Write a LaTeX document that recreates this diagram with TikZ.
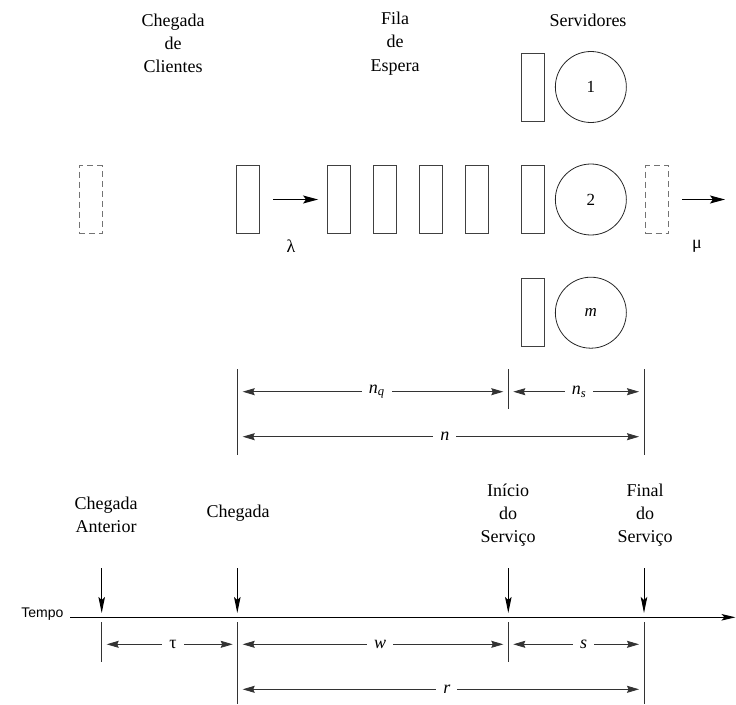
\documentclass[tikz,border=0pt]{standalone}
\usepackage{fontspec}
\setmainfont{Liberation Serif}
\newfontfamily\tempofont{Liberation Sans}
\usetikzlibrary{positioning,arrows.meta}

\begin{document}
\begin{tikzpicture}[
    x=1pt, y=-1pt,
    client/.style={draw=black!75, line width=0.9pt, minimum width=23pt, minimum height=68pt, inner sep=0pt},
    ghost/.style={client, dash pattern=on 6pt off 4pt, draw=black!55},
    server/.style={circle, draw=black!85, line width=0.8pt, minimum size=71pt, inner sep=0pt, font=\fontsize{17}{19}\selectfont},
    caption/.style={align=center, font=\fontsize{18}{23.3}\selectfont},
    flow/.style={-{Stealth[length=15pt,width=8pt,inset=3pt]}, line width=1.1pt},
    drop/.style={-{Stealth[length=16pt,width=6.5pt,inset=3pt]}, line width=1pt},
    axis/.style={-{Stealth[length=14pt,width=6.5pt,inset=3pt]}, line width=1.2pt},
    span/.style={{Stealth[length=12pt,width=7pt,inset=1.5pt]}-{Stealth[length=12pt,width=7pt,inset=1.5pt]}, draw=black!80, line width=0.8pt},
    spanlabel/.style={fill=white, inner xsep=7pt, inner ysep=1pt, font=\fontsize{18}{20}\selectfont\itshape},
    tick/.style={draw=black!80, line width=0.8pt}
]
\useasboundingbox (0,0) rectangle (736,704);

% Headings
\node[caption] (hin) at (173,43.5) {Chegada\\de\\Clientes};
\node[caption] (hq) at (395,43.5) {Fila\\de\\Espera};
\node[caption] (hsrv) at (588,20) {Servidores};

% Servers
\node[client] (r1) at (533,87) {};
\node[server, right=10pt of r1] (c1) {1};
\node[client] (r2) at (533,199.5) {};
\node[server, right=10pt of r2] (c2) {2};
\node[client] (r3) at (533,312.7) {};
\node[server, right=10pt of r3] (c3) {\textit{m}};

% Queue
\node[ghost] (prev) at (90.5,199.5) {};
\node[client] (arr) at (248.3,199.5) {};
\node[client] (q1) at (339,199.5) {};
\node[client, right=22pt of q1] (q2) {};
\node[client, right=22pt of q2] (q3) {};
\node[client, right=22pt of q3] (q4) {};
\node[ghost, right=18.5pt of c2] (done) {};
\coordinate (exit) at (725,199.5);

\draw[flow, shorten <=13pt, shorten >=9pt] (arr.east) -- (q1.west);
\draw[flow, shorten <=13pt] (done.east) -- (exit);
\node[caption] (lam) at (291,246) {λ};
\node[caption] (mu) at (697,246) {μ};

% Counts
\coordinate (nA) at (237.3,369); \coordinate (nA') at (237.3,455);
\coordinate (nB) at (508.3,369); \coordinate (nB') at (508.3,409);
\coordinate (nC) at (644,369);   \coordinate (nC') at (644,455);
\draw[tick] (nA) -- (nA');
\draw[tick] (nB) -- (nB');
\draw[tick] (nC) -- (nC');

\coordinate (nq0) at (242.7,391.7); \coordinate (nq1) at (503.3,391.7);
\coordinate (ns0) at (513.3,391.7); \coordinate (ns1) at (639,391.7);
\coordinate (n0) at (242.7,436.7);  \coordinate (n1) at (639,436.7);
\draw[span] (nq0) -- node[spanlabel, pos=0.514] (lnq) {n\textsubscript{q}} (nq1);
\draw[span] (ns0) -- node[spanlabel, pos=0.523] (lns) {n\textsubscript{s}} (ns1);
\draw[span] (n0) -- node[spanlabel, pos=0.51] (ln) {n} (n1);

% Time line
\node[anchor=east, font=\tempofont\fontsize{14}{16}\selectfont] (tempo) at (67,614) {Tempo};
\coordinate (t0) at (70,617.3); \coordinate (t1) at (735.5,617.3);
\draw[axis] (t0) -- (t1);

\node[caption] (ev0) at (106,515) {Chegada\\Anterior};
\node[caption] (ev1) at (238,512.7) {Chegada};
\node[caption] (ev2) at (508,515) {Início\\do\\Serviço};
\node[caption] (ev3) at (645,515) {Final\\do\\Serviço};

\coordinate (d0) at (101.7,568); \coordinate (e0) at (101.7,613);
\coordinate (d1) at (237.3,568); \coordinate (e1) at (237.3,613);
\coordinate (d2) at (508.3,568); \coordinate (e2) at (508.3,613);
\coordinate (d3) at (644,568);   \coordinate (e3) at (644,613);
\draw[drop] (d0) -- (e0);
\draw[drop] (d1) -- (e1);
\draw[drop] (d2) -- (e2);
\draw[drop] (d3) -- (e3);

% Intervals
\coordinate (k0) at (101.7,622); \coordinate (k0') at (101.7,662);
\coordinate (k1) at (237.3,622); \coordinate (k1') at (237.3,704);
\coordinate (k2) at (508.3,622); \coordinate (k2') at (508.3,662);
\coordinate (k3) at (644,622);   \coordinate (k3') at (644,704);
\draw[tick] (k0) -- (k0');
\draw[tick] (k1) -- (k1');
\draw[tick] (k2) -- (k2');
\draw[tick] (k3) -- (k3');

\coordinate (tau0) at (106.7,644.3); \coordinate (tau1) at (232.7,644.3);
\coordinate (w0) at (242.7,644.3);   \coordinate (w1) at (503.3,644.3);
\coordinate (s0) at (513.3,644.3);   \coordinate (s1) at (639,644.3);
\coordinate (r0) at (242.7,689.3);   \coordinate (r1') at (639,689.3);
\draw[span] (tau0) -- node[spanlabel, pos=0.526, font=\fontsize{18}{20}\selectfont\upshape] (ltau) {τ} (tau1);
\draw[span] (w0) -- node[spanlabel, pos=0.527] (lw) {w} (w1);
\draw[span] (s0) -- node[spanlabel, pos=0.56] (ls) {s} (s1);
\draw[span] (r0) -- node[spanlabel, pos=0.515] (lr) {r} (r1');

\end{tikzpicture}
\end{document}
